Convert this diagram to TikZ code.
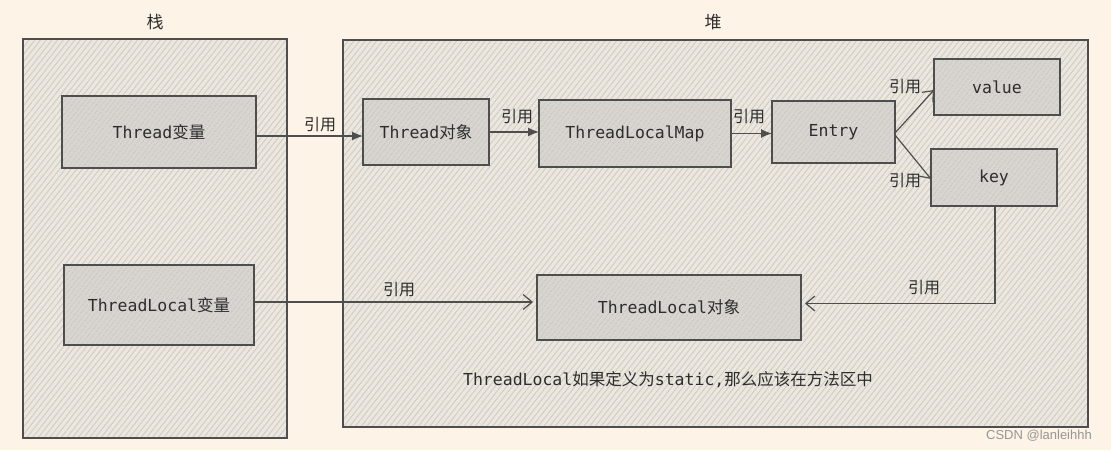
\documentclass[tikz,border=0pt]{standalone}
\usepackage{fontspec}
\setmonofont{DejaVu Sans Mono}
\newfontfamily\cjk{Noto Sans CJK SC}
\newfontfamily\wmfont{Liberation Sans}
\usetikzlibrary{arrows.meta,patterns.meta}
\definecolor{bgc}{RGB}{253,243,230}
\definecolor{bigfill}{RGB}{236,231,222}
\definecolor{bighatch}{RGB}{205,201,194}
\definecolor{boxfill}{RGB}{216,213,208}
\definecolor{boxhatch}{RGB}{184,182,179}
\definecolor{edge}{RGB}{78,78,78}
\definecolor{txt}{RGB}{45,45,45}
\tikzset{
  bigbox/.style={draw=edge, line width=1.2pt, inner sep=0pt, outer sep=0pt,
    preaction={fill=bigfill},
    pattern={Lines[angle=52,distance=4.5pt,line width=0.8pt]}, pattern color=bighatch},
  objbox/.style={draw=edge, line width=1.2pt, inner sep=0pt, outer sep=0pt,
    preaction={fill=boxfill},
    pattern={Lines[angle=52,distance=4pt,line width=0.8pt]}, pattern color=boxhatch,
    text=txt, font=\fontsize{16.5}{18}\selectfont},
  lbl/.style={text=txt, font=\cjk\fontsize{16}{18}\selectfont, inner sep=0pt},
  arrF/.style={draw=edge, line width=1.2pt, -{Latex[length=11pt,width=9pt]}},
  arrO/.style={draw=edge, line width=1.2pt, -{Straight Barb[length=9pt,width=15pt,line width=1.2pt]}}
}
\begin{document}
\begin{tikzpicture}[x=1pt,y=-1pt]
\fill[bgc] (0,0) rectangle (1111,450);
\useasboundingbox (0,0) rectangle (1111,450);
% containers
\node[bigbox, minimum width=264, minimum height=399] (stack) at (155,238.5) {};
\node[bigbox, minimum width=745, minimum height=387] (heap) at (715.5,233.5) {};
\node[lbl, font=\cjk\fontsize{17}{19}\selectfont] (stacklbl) at (155,22) {栈};
\node[lbl, font=\cjk\fontsize{17}{19}\selectfont] (heaplbl) at (713,22) {堆};
% boxes
\node[objbox, minimum width=194, minimum height=72] (tv) at (159,132) {\ttfamily Thread{\cjk 变量}};
\node[objbox, minimum width=126, minimum height=66] (to) at (426,132) {\ttfamily Thread{\cjk 对象}};
\node[objbox, minimum width=192, minimum height=67] (map) at (635,133.5) {\ttfamily ThreadLocalMap};
\node[objbox, minimum width=123, minimum height=62] (entry) at (833.5,132) {\ttfamily Entry};
\node[objbox, minimum width=126, minimum height=56] (value) at (997,87) {\ttfamily value};
\node[objbox, minimum width=126, minimum height=57] (key) at (994,177.5) {\ttfamily key};
\node[objbox, minimum width=190, minimum height=80] (tlv) at (159,305) {\ttfamily ThreadLocal{\cjk 变量}};
\node[objbox, minimum width=264, minimum height=65] (tlo) at (669,307.5) {\ttfamily ThreadLocal{\cjk 对象}};
% arrows
\draw[arrF] ([yshift=-4pt]tv.east) -- ([yshift=-4pt]tv.east -| to.west);
\draw[arrF] (to.east) -- (to.east -| map.west);
\draw[arrF] (map.east) -- (map.east -| entry.west);
\draw[arrO] ([yshift=-1pt]entry.east) -- ([yshift=-3pt]value.west);
\draw[arrO] ([yshift=-3pt]entry.east) -- ([yshift=-1.5pt]key.west);
\draw[arrO] ([xshift=1pt]key.south) |- ([xshift=4pt,yshift=4pt]tlo.east);
\draw[arrO] ([yshift=3pt]tlv.east) -- ([yshift=3pt,xshift=-4pt]tlv.east -| tlo.west);
% labels
\node[lbl] (l1) at (320,125) {引用};
\node[lbl] (l2) at (517,117) {引用};
\node[lbl] (l3) at (749,117) {引用};
\node[lbl] (l4) at (905,87) {引用};
\node[lbl] (l5) at (905,181) {引用};
\node[lbl] (l6) at (924,288) {引用};
\node[lbl] (l7) at (399,290) {引用};
\node[text=txt, font=\fontsize{16.5}{18}\selectfont, inner sep=0pt] (note) at (668,380)
  {\ttfamily ThreadLocal{\cjk 如果定义为}static,{\cjk 那么应该在方法区中}};
\node[text={rgb,255:red,150;green,150;blue,150}, font=\wmfont\fontsize{13}{15}\selectfont, inner sep=0pt] (wm) at (1039,436) {CSDN @lanleihhh};
\end{tikzpicture}
\end{document}
